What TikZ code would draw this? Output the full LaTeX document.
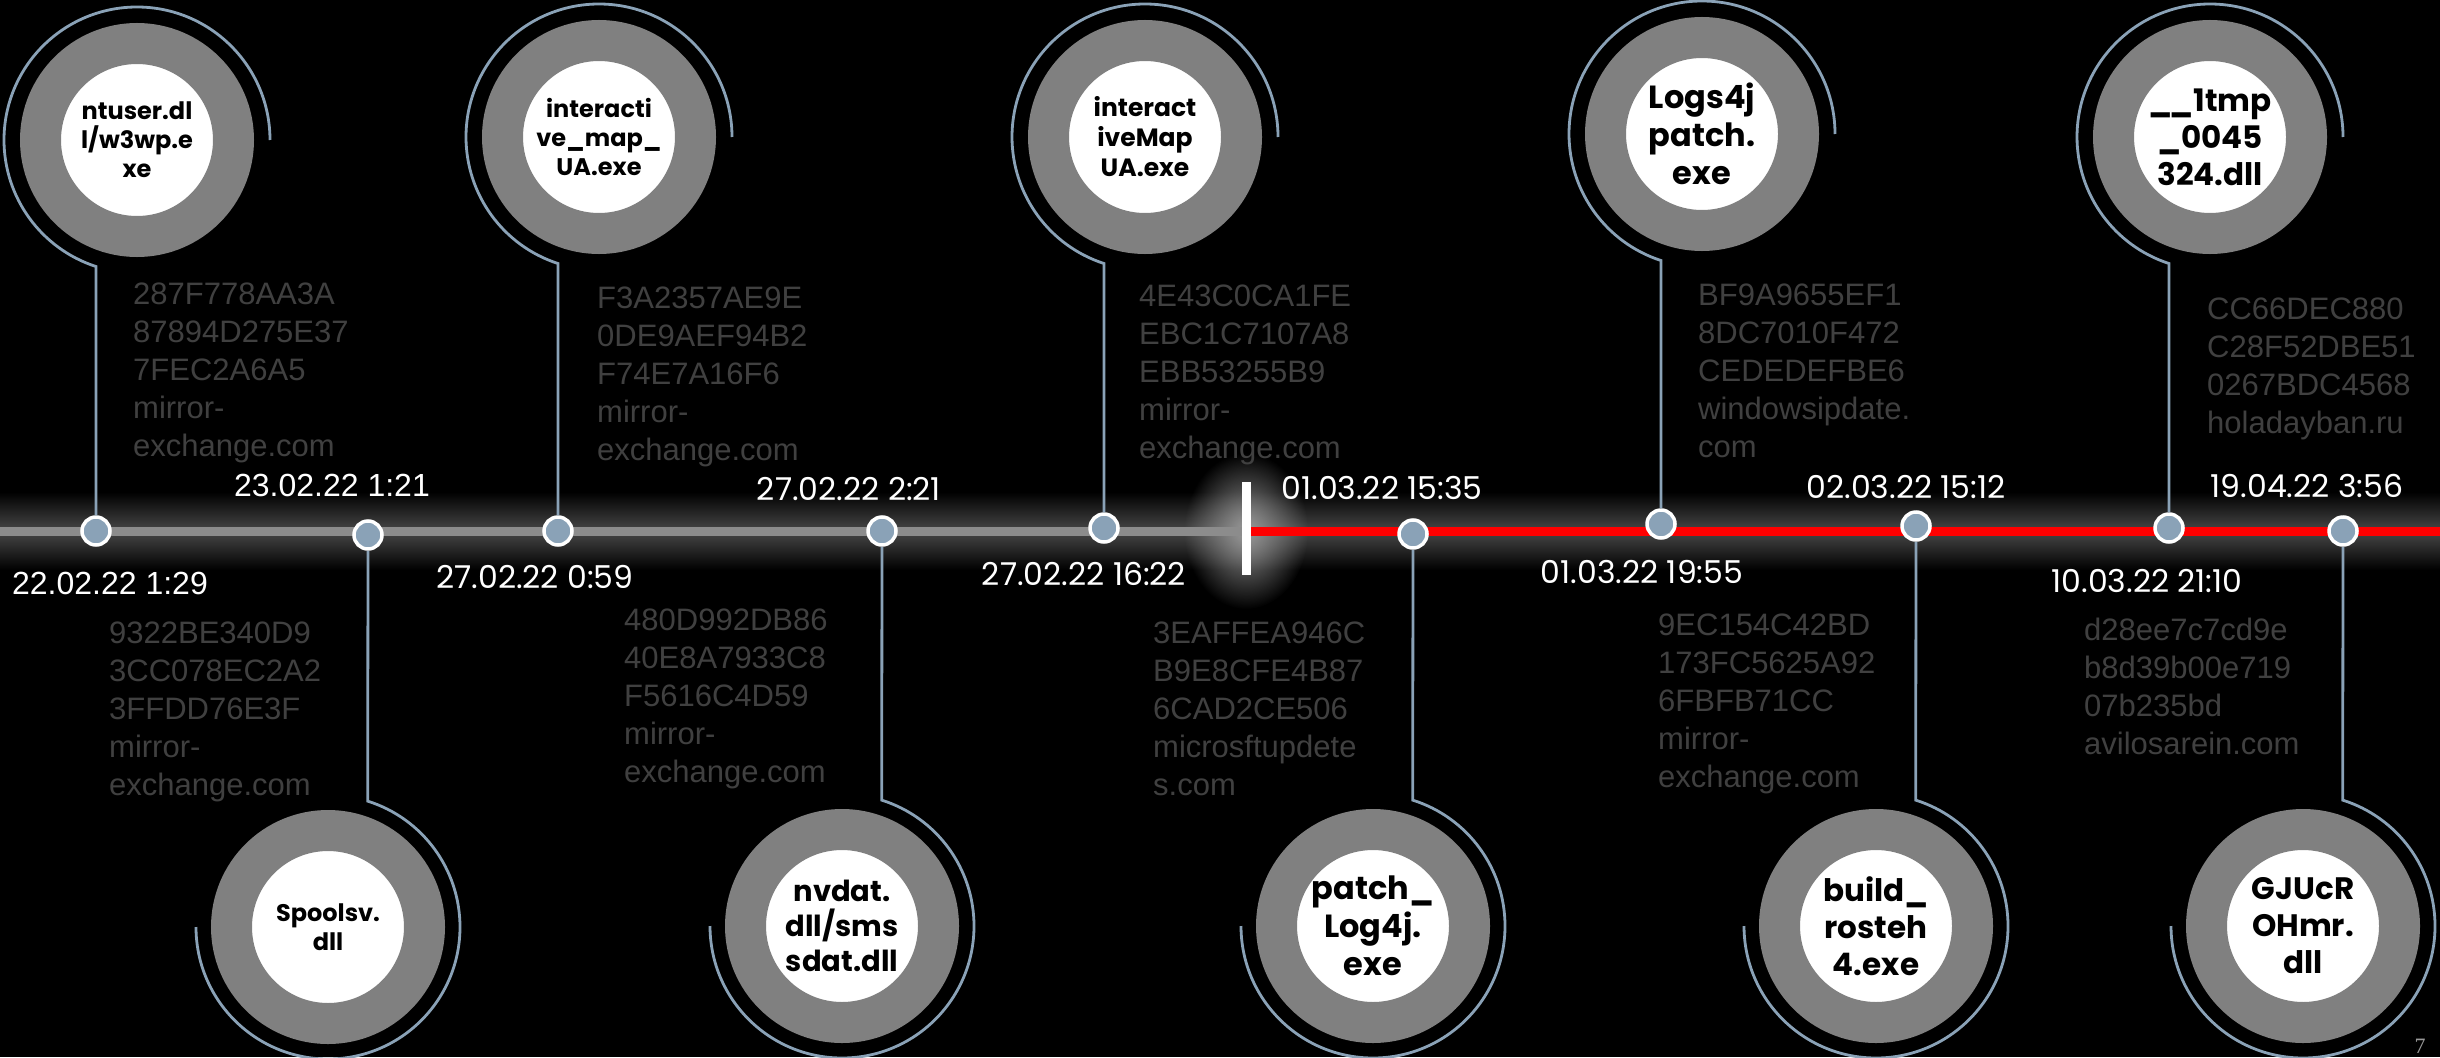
\documentclass[tikz,border=0pt]{standalone}
\usepackage{fontspec}
\setmainfont{Liberation Sans}
\newfontfamily\popfont{Poppins}
\newfontfamily\numfont{Liberation Serif}
\usetikzlibrary{fadings}
\tikzfading[name=glowfade,inner color=transparent!0,outer color=transparent!100]
\definecolor{ringgray}{HTML}{808080}
\definecolor{steel}{HTML}{8AA2B7}
\definecolor{hashgray}{HTML}{404040}
\definecolor{linegray}{HTML}{8C8C8C}
\definecolor{tlred}{HTML}{FF0000}
\tikzset{
  ring/.style={circle,draw=ringgray,fill=white,line width=41pt,minimum size=193pt,
    inner sep=0pt,align=center,text=black,font=\popfont\bfseries\fontsize{24}{29}\selectfont},
  ringbig/.style={ring,font=\popfont\bfseries\fontsize{31}{37}\selectfont},
  dot/.style={circle,fill=steel,draw=white,line width=3.5pt,minimum size=28pt,inner sep=0pt},
  stem/.style={draw=steel,line width=2.8pt},
  hash/.style={anchor=north west,inner sep=0pt,align=left,text=hashgray,
    font=\fontsize{31}{38}\selectfont},
  datea/.style={inner sep=0pt,text=white,font=\fontsize{32}{36}\selectfont},
  datem/.style={inner sep=0pt,text=white,font=\popfont\fontsize{31.5}{36}\selectfont},
}

\begin{document}
\begin{tikzpicture}[x=1pt,y=-1pt]
  \useasboundingbox (0,0) rectangle (2440,1057);
  \fill[black] (0,0) rectangle (2440,1057);
  % timeline band
  \shade[top color=black,bottom color=black,middle color=white!28!black] (0,492) rectangle (2440,570);
  \fill[white!60!black,path fading=glowfade] (1246,531) ellipse [x radius=62pt,y radius=78pt];
  \coordinate (tlstart) at (0,531);
  \coordinate (split) at (1246,531);
  \coordinate (tlend) at (2440,531);
  \draw[linegray,line width=9pt] (tlstart) -- (split);
  \draw[tlred,line width=9pt] (split) -- (tlend);
  \fill[white] (1241.5,482) rectangle (1250.5,575);

  % circles above
  \node[ring] (c1) at (137,140) {ntuser.dl\\l/w3wp.e\\xe};
  \node[ring] (c3) at (599,137) {interacti\\ve\_map\_\\UA.exe};
  \node[ring,font=\popfont\bfseries\fontsize{25}{30}\selectfont] (c5) at (1145,137) {interact\\iveMap\\UA.exe};
  \node[ringbig,font=\popfont\bfseries\fontsize{32}{38}\selectfont] (c7) at (1702,134) {Logs4j\\patch.\\exe};
  \node[ringbig] (c9) at (2210,137) {\_\kern-3pt\_1tmp\\\_0045\\324.dll};
  % circles below
  \node[ring] (c2) at (328,927) {Spoolsv.\\dll};
  \node[ringbig,font=\popfont\bfseries\fontsize{29}{35}\selectfont] (c4) at (842,926) {nvdat.\\dll/sms\\sdat.dll};
  \node[ringbig,font=\popfont\bfseries\fontsize{32}{38}\selectfont] (c6) at (1373,926) {patch\_\\Log4j.\\exe};
  \node[ringbig] (c8) at (1876,926) {build\_\\rosteh\\4.exe};
  \node[ringbig] (c10) at (2303,926) {GJUcR\\OHmr.\\dll};

  % markers
  \node[dot] (m1) at (96,531) {};
  \node[dot] (m2) at (368,535) {};
  \node[dot] (m3) at (558,531) {};
  \node[dot] (m4) at (882,531) {};
  \node[dot] (m5) at (1104,528) {};
  \node[dot] (m6) at (1413,534) {};
  \node[dot] (m7) at (1661,524) {};
  \node[dot] (m8) at (1916,526) {};
  \node[dot] (m9) at (2169,528) {};
  \node[dot] (m10) at (2343,531) {};

  % stems
  \draw[stem] ([xshift=133pt]c1.center) arc[start angle=0,end angle=252,radius=133pt] -- (m1);
  \draw[stem] ([xshift=133pt]c3.center) arc[start angle=0,end angle=252,radius=133pt] -- (m3);
  \draw[stem] ([xshift=133pt]c5.center) arc[start angle=0,end angle=252,radius=133pt] -- (m5);
  \draw[stem] ([xshift=133pt]c7.center) arc[start angle=0,end angle=252,radius=133pt] -- (m7);
  \draw[stem] ([xshift=133pt]c9.center) arc[start angle=0,end angle=252,radius=133pt] -- (m9);
  \draw[stem] ([xshift=-132pt]c2.center) arc[start angle=180,end angle=432.5,radius=132pt] -- (m2);
  \draw[stem] ([xshift=-132pt]c4.center) arc[start angle=180,end angle=432.5,radius=132pt] -- (m4);
  \draw[stem] ([xshift=-132pt]c6.center) arc[start angle=180,end angle=432.5,radius=132pt] -- (m6);
  \draw[stem] ([xshift=-132pt]c8.center) arc[start angle=180,end angle=432.5,radius=132pt] -- (m8);
  \draw[stem] ([xshift=-132pt]c10.center) arc[start angle=180,end angle=432.5,radius=132pt] -- (m10);

  % dates
  \node[datea] (t1) at (110,583) {22.02.22 1:29};
  \node[datea] (t2) at (332,485) {23.02.22 1:21};
  \node[datem] (t3) at (535,577) {27.02.22 0:59};
  \node[datem] (t4) at (849,489) {27.02.22 2:21};
  \node[datem] (t5) at (1084,574) {27.02.22 16:22};
  \node[datem] (t6) at (1382,488) {01.03.22 15:35};
  \node[datem] (t7) at (1642,572) {01.03.22 19:55};
  \node[datem] (t8) at (1906,487) {02.03.22 15:12};
  \node[datem] (t9) at (2147,581) {10.03.22 21:10};
  \node[datem] (t10) at (2307,486) {19.04.22 3:56};

  % hashes and domains
  \node[hash] (h1) at (133,283) {287F778AA3A\\87894D275E37\\7FEC2A6A5\\mirror-\\exchange.com};
  \node[hash] (h3) at (597,287) {F3A2357AE9E\\0DE9AEF94B2\\F74E7A16F6\\mirror-\\exchange.com};
  \node[hash] (h5) at (1139,285) {4E43C0CA1FE\\EBC1C7107A8\\EBB53255B9\\mirror-\\exchange.com};
  \node[hash] (h7) at (1698,284) {BF9A9655EF1\\8DC7010F472\\CEDEDEFBE6\\windowsipdate.\\com};
  \node[hash] (h9) at (2207,298) {CC66DEC880\\C28F52DBE51\\0267BDC4568\\holadayban.ru};
  \node[hash] (h2) at (109,622) {9322BE340D9\\3CC078EC2A2\\3FFDD76E3F\\mirror-\\exchange.com};
  \node[hash] (h4) at (624,609) {480D992DB86\\40E8A7933C8\\F5616C4D59\\mirror-\\exchange.com};
  \node[hash] (h6) at (1153,622) {3EAFFEA946C\\B9E8CFE4B87\\6CAD2CE506\\microsftupdete\\s.com};
  \node[hash] (h8) at (1658,614) {9EC154C42BD\\173FC5625A92\\6FBFB71CC\\mirror-\\exchange.com};
  \node[hash] (h10) at (2084,618) {d28ee7c7cd9e\\b8d39b00e719\\07b235bd\\avilosarein.com};

  \node[text=white!60!black,font=\numfont\fontsize{22}{24}\selectfont] (pg) at (2420,1046) {7};
\end{tikzpicture}
\end{document}
